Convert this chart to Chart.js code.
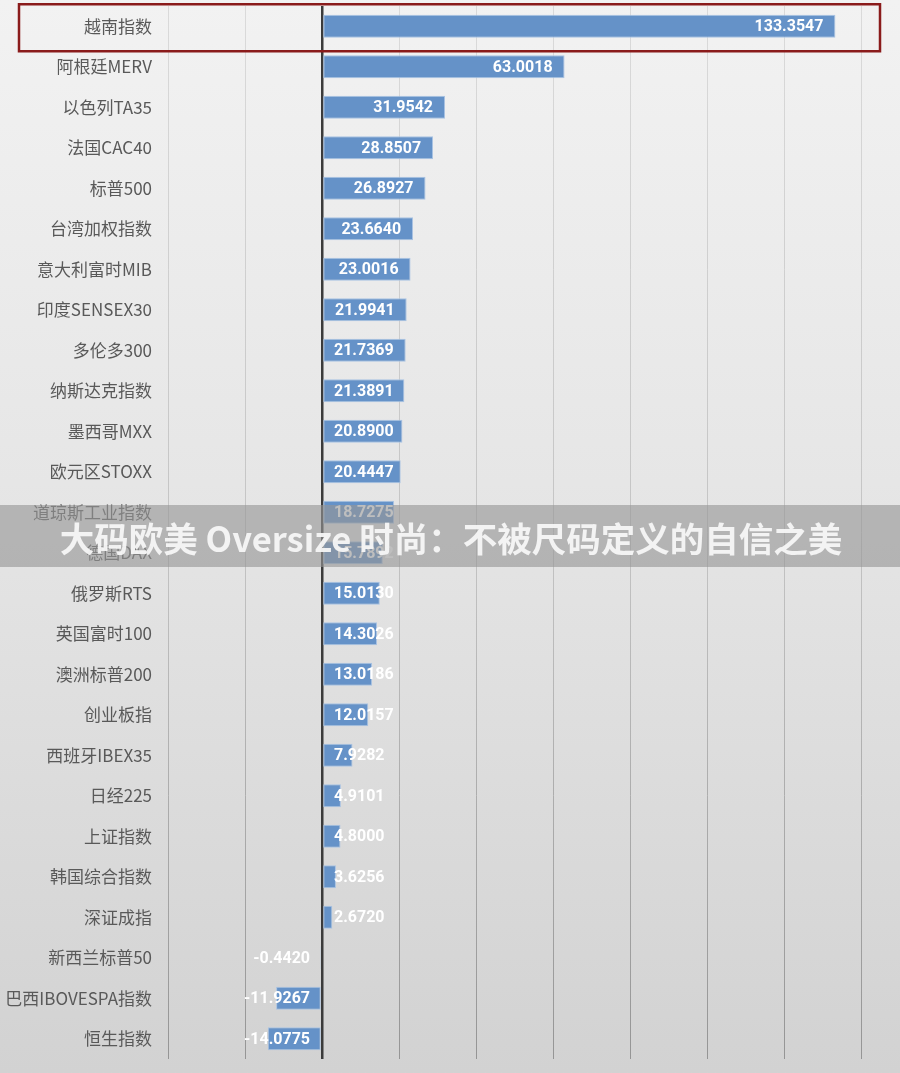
<!DOCTYPE html>
<html>
<head>
<meta charset="utf-8">
<script src="https://cdn.jsdelivr.net/npm/chart.js@4/dist/chart.umd.min.js"></script>
<style>
    html, body { margin: 0; padding: 0; }
    body {
        width: 900px;
        height: 1073px;
        background: linear-gradient(180deg, #f2f2f2 0%, #e6e6e6 45%, #d2d2d2 100%);
        overflow: hidden;
    }
    #wrap { position: relative; width: 900px; height: 1073px; }
</style>
</head>
<body>
<div id="wrap"><canvas id="indexChart"></canvas></div>
<script>
// Index names (top to bottom) and their returns
const categories = [
    '越南指数', '阿根廷MERV', '以色列TA35', '法国CAC40', '标普500', '台湾加权指数',
    '意大利富时MIB', '印度SENSEX30', '多伦多300', '纳斯达克指数', '墨西哥MXX', '欧元区STOXX',
    '道琼斯工业指数', '德国DAX', '俄罗斯RTS', '英国富时100', '澳洲标普200', '创业板指',
    '西班牙IBEX35', '日经225', '上证指数', '韩国综合指数', '深证成指', '新西兰标普50',
    '巴西IBOVESPA指数', '恒生指数'
];
const returns = [
    133.3547, 63.0018, 31.9542, 28.8507, 26.8927, 23.6640,
    23.0016, 21.9941, 21.7369, 21.3891, 20.8900, 20.4447,
    18.7275, 15.7892, 15.0130, 14.3026, 13.0186, 12.0157,
    7.9282, 4.9101, 4.8000, 3.6256, 2.6720, -0.4420,
    -11.9267, -14.0775
];
const axisMin = -40;
const axisMax = 140;
const axisStep = 20;
const highlightIndex = 0;
const bannerText = '大码欧美 Oversize 时尚：不被尺码定义的自信之美';

// value labels drawn inside the bar end (clamped near the zero line)
const valueLabels = {
    id: 'valueLabels',
    afterDatasetsDraw(chart) {
        const ctx = chart.ctx;
        const meta = chart.getDatasetMeta(0);
        const zero = chart.scales.x.getPixelForValue(0);
        ctx.save();
        ctx.font = 'bold 16px Roboto, sans-serif';
        ctx.fillStyle = '#ffffff';
        ctx.textBaseline = 'middle';
        meta.data.forEach((bar, i) => {
            const v = returns[i];
            const txt = v.toFixed(4);
            const w = ctx.measureText(txt).width;
            let left;
            if (v >= 0) {
                left = Math.max(bar.x - 12 - w, zero + 12);
            } else {
                left = zero - 12 - w;
            }
            ctx.textAlign = 'left';
            ctx.fillText(txt, left, bar.y + 1);
        });
        ctx.restore();
    }
};

// red highlight box and watermark banner
const overlay = {
    id: 'overlay',
    afterDraw(chart) {
        const ctx = chart.ctx;
        const y = chart.scales.y.getPixelForValue(highlightIndex);
        ctx.save();
        ctx.strokeStyle = '#8a1b1b';
        ctx.lineWidth = 2.5;
        ctx.strokeRect(19, y - 22, 861, 47);

        ctx.fillStyle = 'rgba(150, 150, 150, 0.62)';
        ctx.fillRect(0, 505, chart.width, 62);
        ctx.font = 'bold 34.5px "Noto Sans CJK SC", sans-serif';
        ctx.fillStyle = 'rgba(245, 245, 245, 0.95)';
        ctx.textAlign = 'center';
        ctx.textBaseline = 'middle';
        ctx.fillText(bannerText, 451, 539);
        ctx.restore();
    }
};

const chartCtx = document.getElementById('indexChart').getContext('2d');
let gridGradient = null;
function gridColor(c) {
    if (c.tick && c.tick.value === 0) return '#3b3b3b';
    const area = c.chart.chartArea;
    if (!area) return '#cccccc';
    if (!gridGradient) {
        gridGradient = c.chart.ctx.createLinearGradient(0, area.top, 0, area.bottom);
        gridGradient.addColorStop(0, '#dadada');
        gridGradient.addColorStop(0.5, '#c4c4c4');
        gridGradient.addColorStop(1, '#959595');
    }
    return gridGradient;
}

const indexChart = new Chart(chartCtx, {
    type: 'bar',
    data: {
        labels: categories,
        datasets: [{
            data: returns,
            backgroundColor: '#6592c8',
            borderColor: '#a9c3e3',
            borderWidth: 1,
            borderSkipped: false,
            barPercentage: 0.57,
            categoryPercentage: 1.0
        }]
    },
    options: {
        indexAxis: 'y',
        responsive: true,
        maintainAspectRatio: false,
        animation: false,
        layout: {
            padding: { left: 0, right: 39, top: 6, bottom: 14 }
        },
        plugins: {
            legend: { display: false },
            tooltip: { enabled: false }
        },
        scales: {
            x: {
                min: axisMin,
                max: axisMax,
                ticks: { display: false, stepSize: axisStep },
                border: { display: false },
                grid: {
                    drawTicks: false,
                    color: gridColor,
                    lineWidth: c => (c.tick && c.tick.value === 0) ? 2.5 : 1
                }
            },
            y: {
                afterFit: function (scale) {
                    scale.width = 168;
                    // label padding should not push the plot area down
                    scale.paddingTop = 0;
                    scale.paddingBottom = 0;
                },
                border: { display: false },
                grid: { display: false, drawTicks: false },
                ticks: {
                    padding: 16,
                    color: '#595959',
                    font: { family: '"Noto Sans CJK SC", sans-serif', size: 17 }
                }
            }
        }
    },
    plugins: [valueLabels, overlay]
});
</script>
</body>
</html>
